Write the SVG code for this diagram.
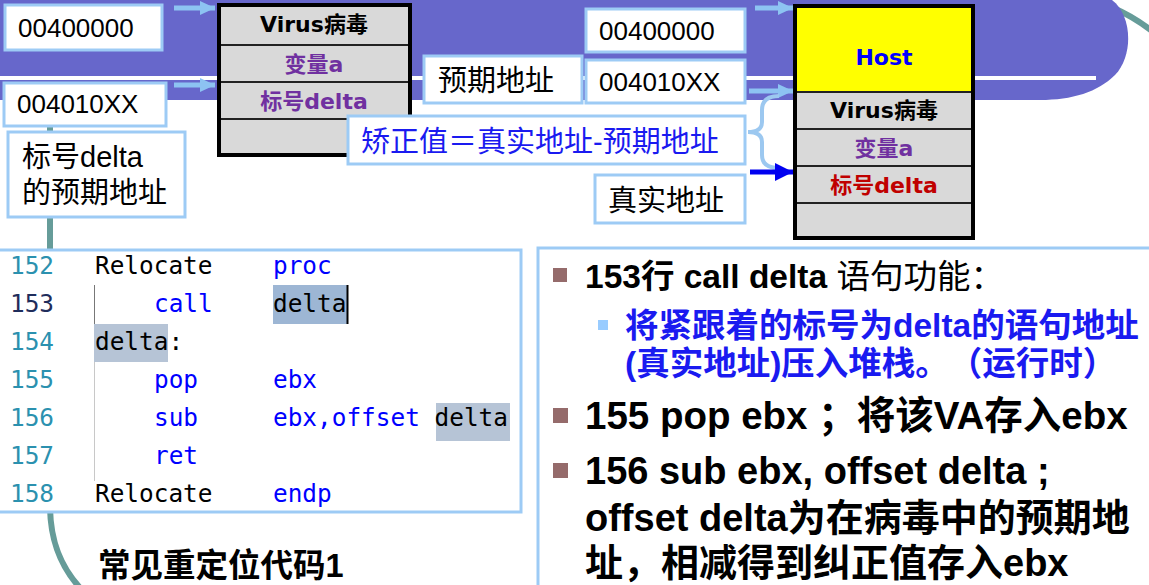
<svg xmlns="http://www.w3.org/2000/svg" width="1149" height="585" viewBox="0 0 1149 585">
<defs>
<style>
.lb{fill:#fff;stroke:#9DCBF5;stroke-width:3}
.t{font-family:"Liberation Sans","Noto Sans CJK SC",sans-serif;fill:#000}
.bx{font-family:"DejaVu Sans","Noto Sans CJK SC",sans-serif;font-weight:bold;font-size:22px;text-anchor:middle}
.cell{fill:#D9D9D9}
.row{stroke:#222;stroke-width:2}
.frame{fill:none;stroke:#000;stroke-width:4}
.code{font-family:"DejaVu Sans Mono",monospace;font-size:24.4px}
.ln{fill:#2B91AF}
.kw{fill:#0000FF}
.id{fill:#000}
.rt{font-family:"Liberation Sans","Noto Sans CJK SC",sans-serif;font-weight:bold;text-spacing-trim:space-all}
.arr{stroke:#8DC3F2;stroke-width:5;fill:none}
</style>
<marker id="ah" viewBox="0 0 15 14" refX="15" refY="7" markerWidth="15" markerHeight="14" markerUnits="userSpaceOnUse" orient="auto">
<path d="M0,0 L15,7 L0,14 Z" fill="#8DC3F2"/>
</marker>
<marker id="ahd" viewBox="0 0 18 18" refX="18" refY="9" markerWidth="18" markerHeight="18" markerUnits="userSpaceOnUse" orient="auto">
<path d="M0,0 L18,9 L0,18 Z" fill="#0000F0"/>
</marker>
</defs>
<rect width="1149" height="585" fill="#fff"/>
<g id="background">
<path d="M50,95 V505 C50,540 60,568 84,592" fill="none" stroke="#669C99" stroke-width="6"/>
<path d="M1060,-8 C1100,0 1130,12 1158,36" fill="none" stroke="#669C99" stroke-width="6"/>
<path d="M0,0 H1112 C1132,15 1134,55 1115,75 C1098,92 1072,100 1040,100 H0 Z" fill="#6767CB"/>
<rect x="0" y="76" width="1096" height="4" fill="#fff"/>
</g>
<g id="addr-left-1"><rect class="lb" x="5" y="5" width="157" height="45"/><text class="t" x="18" y="37" font-size="26">00400000</text></g>
<g id="addr-left-2"><rect class="lb" x="4" y="83" width="162" height="43"/><text class="t" x="17" y="113" font-size="26">004010XX</text></g>
<g id="label-expected-delta"><rect class="lb" x="8" y="132" width="177" height="85"/><text class="t" x="22" y="167" font-size="29">标号delta</text><text class="t" x="22" y="203" font-size="29">的预期地址</text></g>
<g id="virus-block">
<rect class="cell" x="219" y="5" width="191" height="150"/>
<line class="row" x1="219" y1="45" x2="410" y2="45"/>
<line class="row" x1="219" y1="82" x2="410" y2="82"/>
<line class="row" x1="219" y1="119" x2="410" y2="119"/>
<rect class="frame" x="219" y="5" width="191" height="150"/>
<text class="bx" x="314" y="32" fill="#000">Virus病毒</text>
<text class="bx" x="314" y="72" fill="#7030A0">变量a</text>
<text class="bx" x="314" y="109" fill="#7030A0">标号delta</text>
</g>
<g id="label-expected"><rect class="lb" x="424" y="56" width="158" height="47"/><text class="t" x="438" y="91" font-size="29">预期地址</text></g>
<g id="addr-right-1"><rect class="lb" x="586" y="9" width="159" height="43"/><text class="t" x="599" y="40" font-size="26">00400000</text></g>
<g id="addr-right-2"><rect class="lb" x="586" y="60" width="159" height="43"/><text class="t" x="599" y="91" font-size="26">004010XX</text></g>
<g id="label-correction"><rect class="lb" x="348" y="116" width="397" height="48"/><text class="t" x="361" y="152" font-size="29" style="fill:#1A1AF0;text-spacing-trim:space-all">矫正值＝真实地址-预期地址</text></g>
<g id="label-real"><rect class="lb" x="595" y="175" width="150" height="48"/><text class="t" x="608" y="211" font-size="29">真实地址</text></g>
<g id="host-block">
<rect class="cell" x="795" y="6" width="178" height="232"/>
<rect x="795" y="6" width="178" height="86" fill="#FFFF00"/>
<line class="row" x1="795" y1="92" x2="973" y2="92"/>
<line class="row" x1="795" y1="129" x2="973" y2="129"/>
<line class="row" x1="795" y1="166" x2="973" y2="166"/>
<line class="row" x1="795" y1="203" x2="973" y2="203"/>
<rect class="frame" x="795" y="6" width="178" height="232"/>
<text class="bx" x="884" y="65" fill="#0000FF">Host</text>
<text class="bx" x="884" y="118" fill="#000">Virus病毒</text>
<text class="bx" x="884" y="156" fill="#7030A0">变量a</text>
<text class="bx" x="884" y="193" fill="#C00000">标号delta</text>
</g>
<g id="connectors">
<line class="arr" x1="174" y1="8" x2="215" y2="8" marker-end="url(#ah)"/>
<line class="arr" x1="174" y1="85" x2="215" y2="85" marker-end="url(#ah)"/>
<line class="arr" x1="755" y1="8" x2="793" y2="8" marker-end="url(#ah)"/>
<line class="arr" x1="749" y1="91" x2="793" y2="91" marker-end="url(#ah)"/>
<path d="M779,96 Q762,96 762,110 V122 Q762,132 748,132 Q762,132 762,142 V155 Q762,168 779,168" fill="none" stroke="#9CC8F0" stroke-width="4"/>
<line x1="750" y1="172" x2="793" y2="172" stroke="#0000F0" stroke-width="5" marker-end="url(#ahd)"/>
</g>
<g id="code-box">
<rect class="lb" x="-3" y="250" width="524" height="262"/>
<rect x="273" y="285" width="74" height="39" fill="#9DB6D4"/>
<rect x="94" y="324" width="74" height="38" fill="#B6C4D6"/>
<rect x="436" y="403" width="74" height="38" fill="#B6C4D6"/>
<line x1="94.5" y1="285" x2="94.5" y2="324" stroke="#777" stroke-width="1"/>
<line x1="94.5" y1="362" x2="94.5" y2="481" stroke="#C8C8C8" stroke-width="1"/>
<line x1="347.5" y1="285" x2="347.5" y2="324" stroke="#000" stroke-width="2"/>
<g class="code">
<text class="ln" x="10" y="274">152</text><text class="id" x="95" y="274">Relocate</text><text class="kw" x="273" y="274">proc</text>
<text x="10" y="312" fill="#1F2D5C">153</text><text class="kw" x="154" y="312">call</text><text class="id" x="273" y="312">delta</text>
<text class="ln" x="10" y="350">154</text><text class="id" x="95" y="350">delta:</text>
<text class="ln" x="10" y="388">155</text><text class="kw" x="154" y="388">pop</text><text class="kw" x="273" y="388">ebx</text>
<text class="ln" x="10" y="426">156</text><text class="kw" x="154" y="426">sub</text><text class="kw" x="273" y="426">ebx,offset <tspan fill="#000">delta</tspan></text>
<text class="ln" x="10" y="464">157</text><text class="kw" x="154" y="464">ret</text>
<text class="ln" x="10" y="502">158</text><text class="id" x="95" y="502">Relocate</text><text class="kw" x="273" y="502">endp</text>
</g>
</g>
<g id="caption"><text class="rt" x="98" y="577" font-size="32.5">常见重定位代码1</text></g>
<g id="explain-box">
<rect class="lb" x="538" y="248" width="620" height="400"/>
<rect x="553" y="268" width="14" height="14" fill="#956B6B"/>
<text class="rt" x="585" y="288" font-size="33.5">153行 call delta <tspan font-weight="normal">语句功能：</tspan></text>
<rect x="598" y="320" width="10" height="10" fill="#99CCFF"/>
<text class="rt" x="625" y="337" font-size="33.5" fill="#1A1AF0">将紧跟着的标号为delta的语句地址</text>
<text class="rt" x="625" y="375" font-size="33.5" fill="#1A1AF0">(真实地址)压入堆栈。（运行时）</text>
<rect x="553" y="408" width="15" height="15" fill="#956B6B"/>
<text class="rt" x="585" y="429" font-size="38.5">155 pop ebx ；将该VA存入ebx</text>
<rect x="553" y="463" width="15" height="15" fill="#956B6B"/>
<text class="rt" x="585" y="484" font-size="38">156 sub ebx, offset delta ;</text>
<text class="rt" x="585" y="531" font-size="38">offset delta为在病毒中的预期地</text>
<text class="rt" x="585" y="576" font-size="38">址，相减得到纠正值存入ebx</text>
</g>
</svg>
